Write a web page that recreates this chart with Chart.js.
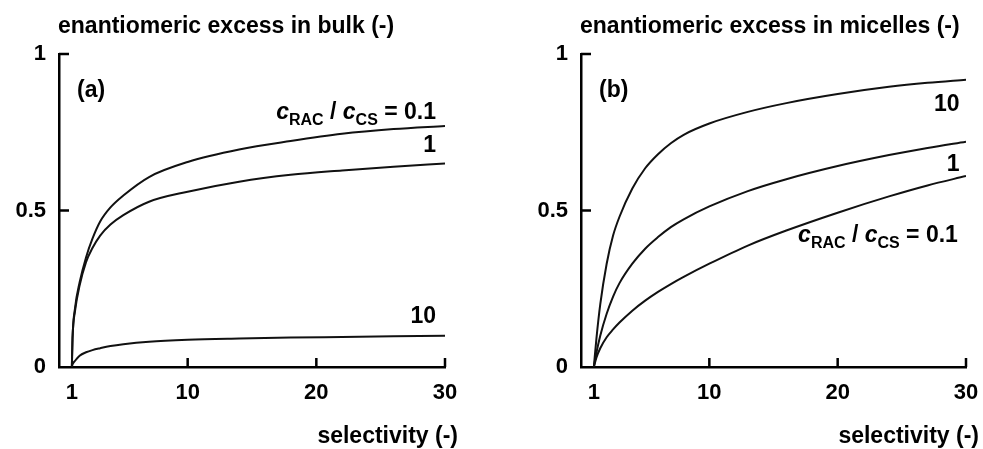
<!DOCTYPE html>
<html>
<head>
<meta charset="utf-8">
<script src="https://cdn.jsdelivr.net/npm/chart.js@4.4.1/dist/chart.umd.min.js"></script>
<style>
  body { margin: 0; background: #fff; }
  .panel { position: absolute; top: 0; height: 449px; }
</style>
</head>
<body>
<div class="panel" style="left:0;width:490px"><canvas id="bulkChart" width="490" height="449"></canvas></div>
<div class="panel" style="left:490px;width:493px"><canvas id="micelleChart" width="493" height="449"></canvas></div>
<script>
const FONT = "'Liberation Sans', Arial, Helvetica, sans-serif";

// axis ticks (same in both panels)
const xTickLabels = [1, 10, 20, 30];
const xTickMarks = [10, 20, 30];
const yTickLabels = [0, 0.5, 1];
const yTickMarks = [0.5, 1];

// (a) enantiomeric excess in bulk
const bulkSelectivity = [1, 1.05, 1.25, 1.6, 2.1, 2.6, 3.2, 4, 5, 7, 10, 14, 18, 22, 26, 30];
const bulkEe01 = [0, 0.09, 0.19, 0.27, 0.35, 0.41, 0.465, 0.51, 0.548, 0.607, 0.655, 0.695, 0.722, 0.745, 0.76, 0.77];
const bulkEe1  = [0, 0.09, 0.18, 0.26, 0.335, 0.38, 0.42, 0.455, 0.485, 0.528, 0.56, 0.592, 0.614, 0.628, 0.64, 0.65];
const bulkEe10 = [0, 0.008, 0.02, 0.036, 0.047, 0.054, 0.06, 0.067, 0.073, 0.081, 0.087, 0.091, 0.094, 0.096, 0.098, 0.1];

// (b) enantiomeric excess in micelles
const micSelectivity = [1, 1.2, 1.5, 2, 2.5, 3, 4, 5, 6, 7, 8, 10, 13, 16, 20, 24, 27, 30];
const micEe10 = [0, 0.09, 0.2, 0.33, 0.42, 0.48, 0.57, 0.635, 0.68, 0.715, 0.742, 0.778, 0.815, 0.843, 0.872, 0.895, 0.908, 0.918];
const micEe1  = [0, 0.045, 0.1, 0.17, 0.225, 0.268, 0.33, 0.378, 0.415, 0.447, 0.472, 0.513, 0.562, 0.6, 0.642, 0.677, 0.7, 0.72];
const micEe01 = [0, 0.03, 0.06, 0.095, 0.12, 0.142, 0.18, 0.212, 0.24, 0.265, 0.288, 0.33, 0.388, 0.436, 0.493, 0.545, 0.58, 0.61];

function toPoints(xs, ys) {
    return xs.map((x, i) => ({ x: x, y: ys[i] }));
}

// c_RAC / c_CS = 0.1, right aligned at (right, baseline)
function drawRatioLabel(ctx, right, baseline) {
    const parts = [
        { t: 'c', font: 'italic bold 23px ' + FONT, dy: 0 },
        { t: 'RAC', font: 'bold 16px ' + FONT, dy: 6 },
        { t: ' / ', font: 'bold 23px ' + FONT, dy: 0 },
        { t: 'c', font: 'italic bold 23px ' + FONT, dy: 0 },
        { t: 'CS', font: 'bold 16px ' + FONT, dy: 6 },
        { t: ' = 0.1', font: 'bold 23px ' + FONT, dy: 0 }
    ];
    let total = 0;
    parts.forEach(p => { ctx.font = p.font; p.w = ctx.measureText(p.t).width; total += p.w; });
    let x = right - total;
    ctx.textAlign = 'left';
    parts.forEach(p => {
        ctx.font = p.font;
        ctx.fillText(p.t, x, baseline + p.dy);
        x += p.w;
    });
}

const paperDecor = {
    id: 'paperDecor',
    afterDraw(chart, args, opts) {
        const ctx = chart.ctx;
        const area = chart.chartArea;
        const xs = chart.scales.x, ys = chart.scales.y;
        ctx.save();
        ctx.fillStyle = '#000';
        ctx.strokeStyle = '#000';
        ctx.textBaseline = 'alphabetic';

        // inward tick marks
        ctx.lineWidth = 2.5;
        ctx.beginPath();
        xTickMarks.forEach(v => {
            const px = xs.getPixelForValue(v);
            ctx.moveTo(px, area.bottom);
            ctx.lineTo(px, area.bottom - 9);
        });
        yTickMarks.forEach(v => {
            const py = ys.getPixelForValue(v);
            ctx.moveTo(area.left, py);
            ctx.lineTo(area.left + 10, py);
        });
        ctx.stroke();

        ctx.font = 'bold 23px ' + FONT;
        ctx.textAlign = 'left';
        ctx.fillText(opts.title, area.left - 1, 33);
        ctx.fillText(opts.letter, area.left + 18, 97);
        ctx.textAlign = 'right';
        ctx.fillText('selectivity (-)', area.right + 13, 443);

        opts.curveLabels.forEach(l => {
            const px = xs.getPixelForValue(l.x);
            const py = ys.getPixelForValue(l.y);
            if (l.ratio) {
                drawRatioLabel(ctx, px, py);
            } else {
                ctx.font = 'bold 23px ' + FONT;
                ctx.textAlign = 'right';
                ctx.fillText(l.text, px, py);
            }
        });
        ctx.restore();
    }
};

function makePanel(id, cfg) {
    const ctx = document.getElementById(id).getContext('2d');
    return new Chart(ctx, {
        type: 'line',
        data: {
            datasets: cfg.series.map(ys => ({
                data: toPoints(cfg.xs, ys),
                borderColor: '#111',
                borderWidth: 2,
                pointRadius: 0,
                cubicInterpolationMode: 'monotone',
                fill: false
            }))
        },
        options: {
            responsive: false,
            animation: false,
            layout: { padding: { left: 0, right: cfg.padRight, top: 54, bottom: 0 } },
            plugins: {
                legend: { display: false },
                tooltip: { enabled: false },
                paperDecor: cfg.decor
            },
            scales: {
                x: {
                    type: 'linear',
                    min: 0,
                    max: 30,
                    afterBuildTicks: scale => { scale.ticks = xTickLabels.map(v => ({ value: v })); },
                    afterFit: scale => {
                        scale.height = 82;
                        scale.paddingLeft = 0;
                        scale.paddingRight = 0;
                    },
                    grid: { display: false, drawTicks: false },
                    border: { display: true, color: '#000', width: 2.5 },
                    ticks: {
                        color: '#000',
                        padding: 13,
                        maxRotation: 0,
                        font: { family: FONT, size: 22, weight: 'bold' }
                    }
                },
                y: {
                    min: 0,
                    max: 1,
                    afterBuildTicks: scale => { scale.ticks = yTickLabels.map(v => ({ value: v })); },
                    afterFit: scale => { scale.width = cfg.areaLeft; },
                    grid: { display: false, drawTicks: false },
                    border: { display: true, color: '#000', width: 2.5 },
                    ticks: {
                        color: '#000',
                        padding: 13,
                        font: { family: FONT, size: 22, weight: 'bold' },
                        callback: v => String(v)
                    }
                }
            }
        },
        plugins: [paperDecor]
    });
}

makePanel('bulkChart', {
    xs: bulkSelectivity,
    series: [bulkEe01, bulkEe1, bulkEe10],
    areaLeft: 59,
    padRight: 45,
    decor: {
        title: 'enantiomeric excess in bulk (-)',
        letter: '(a)',
        curveLabels: [
            { ratio: true, x: 29.3, y: 0.793 },
            { text: '1', x: 29.3, y: 0.688 },
            { text: '10', x: 29.3, y: 0.14 }
        ]
    }
});

makePanel('micelleChart', {
    xs: micSelectivity,
    series: [micEe10, micEe1, micEe01],
    areaLeft: 91,
    padRight: 17,
    decor: {
        title: 'enantiomeric excess in micelles (-)',
        letter: '(b)',
        curveLabels: [
            { text: '10', x: 29.5, y: 0.818 },
            { text: '1', x: 29.5, y: 0.627 },
            { ratio: true, x: 29.37, y: 0.398 }
        ]
    }
});
</script>
</body>
</html>
